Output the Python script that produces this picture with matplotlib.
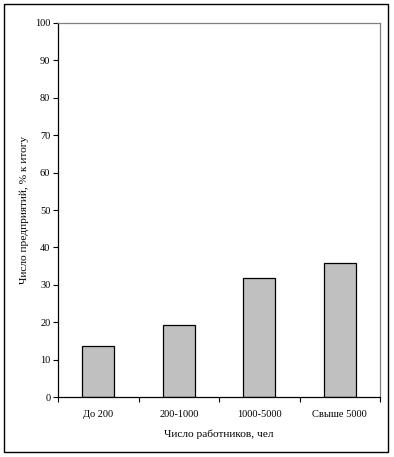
import matplotlib
matplotlib.use("Agg")
import matplotlib.pyplot as plt
from matplotlib.patches import Rectangle

categories = ["До 200", "200-1000", "1000-5000", "Свыше 5000"]
values = [13.6, 19.2, 31.8, 35.8]
yticks = list(range(0, 101, 10))

plt.rcParams['font.family'] = ['Liberation Serif', 'DejaVu Serif']

W, H = 394, 457
fig = plt.figure(figsize=(W/100, H/100), dpi=100)
fig.patch.set_facecolor('white')
# outer frame
fig.add_artist(Rectangle((4/W, 1-452/H), 384/W, 448/H, transform=fig.transFigure,
                         fill=False, edgecolor='black', linewidth=1.0))

left, right, top, bottom = 58, 380, 22.7, 397.3
ax = fig.add_axes([left/W, 1-bottom/H, (right-left)/W, (bottom-top)/H])
x = range(len(categories))
ax.bar(x, values, width=0.4, color='#c0c0c0', edgecolor='black', linewidth=0.9)
ax.set_xlim(-0.5, len(categories)-0.5)
ax.set_ylim(0, 100)
ax.set_yticks(yticks)
ax.set_yticklabels([str(t) for t in yticks], fontsize=7.5)
ax.set_xticks(list(x))
ax.set_xticklabels(categories, fontsize=7.5)
ax.tick_params(axis='x', length=0, pad=9)
ax.set_xticks([i-0.5 for i in range(len(categories)+1)], minor=True)
ax.tick_params(axis='x', which='minor', length=3.5, width=0.8, direction='out')
ax.tick_params(axis='y', length=3.5, width=0.8, direction='out', pad=2)
for s in ['top', 'right']:
    ax.spines[s].set_color('#808080')
    ax.spines[s].set_linewidth(0.9)
for s in ['left', 'bottom']:
    ax.spines[s].set_color('black')
    ax.spines[s].set_linewidth(0.9)
ax.set_xlabel("Число работников, чел", fontsize=8.2, labelpad=8)
ax.set_ylabel("Число предприятий, % к итогу", fontsize=8.2, labelpad=4)
fig.savefig("out.png", dpi=100)
